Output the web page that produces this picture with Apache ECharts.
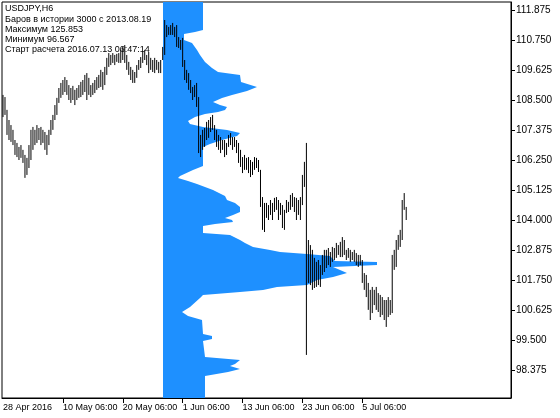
<!DOCTYPE html>
<html><head><meta charset="utf-8">
<script src="https://cdn.jsdelivr.net/npm/echarts@6/dist/echarts.min.js"></script>
<style>html,body{margin:0;padding:0;background:#fff}#c{width:560px;height:418px}</style>
</head><body><div id="c"></div>
<script>
// ---- data ----
const infoLines = ['USDJPY,H6','Баров в истории 3000 с 2013.08.19','Максимум 125.853','Минимум 96.567','Старт расчета 2016.07.13 06:47:14'];
const timeLabels = ['28 Apr 2016','10 May 06:00','20 May 06:00','1 Jun 06:00','13 Jun 06:00','23 Jun 06:00','5 Jul 06:00'];
const timeLabelIdx = [0,30,60,90,120,150,180];
const barSlots = 255;
const priceTicks = [98.375,99.5,100.625,101.75,102.875,104.0,105.125,106.25,107.375,108.5,109.625,110.75,111.875];
const priceMin = 97.325, priceMax = 112.175;
const highs = [108.69,108.61,108.13,107.75,107.56,107.38,107.00,106.89,106.74,106.81,106.63,106.44,106.33,106.81,107.38,107.49,107.38,107.56,107.45,107.49,
107.38,107.30,107.19,107.38,107.75,107.94,108.31,108.58,108.95,109.14,109.25,109.36,109.25,109.06,108.95,109.03,108.88,108.95,109.06,109.18,
109.25,109.44,109.51,109.33,109.06,109.14,109.25,109.36,109.44,109.63,109.55,109.74,110.08,110.26,110.19,110.26,110.19,110.23,110.26,110.38,
110.49,110.56,110.19,109.93,109.74,109.63,109.55,109.81,110.00,110.11,110.30,110.38,110.19,110.30,110.08,110.00,110.08,110.00,109.93,110.00,
110.49,111.50,111.31,111.24,111.31,111.39,111.24,111.31,110.86,110.75,110.83,110.00,109.63,109.51,109.25,108.99,109.06,109.14,108.61,107.19,
107.38,107.45,107.68,107.75,107.86,107.94,107.56,107.38,107.19,107.11,107.00,107.00,106.89,107.19,107.26,107.11,107.11,107.00,106.89,106.63,
106.36,106.44,106.33,106.36,106.25,106.18,106.36,106.33,106.25,105.88,104.86,104.64,104.64,104.56,104.75,104.64,104.83,104.86,104.75,104.64,
104.56,104.38,104.75,104.68,104.94,105.01,104.86,104.83,104.75,104.86,105.69,106.18,106.89,103.25,103.06,102.88,102.58,102.43,102.50,102.31,
102.69,102.88,102.88,102.95,102.80,102.99,102.95,103.14,103.06,103.18,103.36,103.25,102.88,102.95,102.88,102.80,102.88,102.76,102.69,102.69,
102.50,102.01,101.94,101.64,101.38,101.49,101.38,101.49,101.26,101.19,101.11,101.00,101.00,101.11,101.00,102.69,102.88,103.25,103.44,103.63,
104.75,105.01,104.49];
const lows = [107.86,107.94,107.19,107.00,106.93,106.81,106.44,106.36,106.25,106.33,106.14,105.58,105.69,105.95,106.25,106.63,106.81,106.89,107.00,106.81,
106.89,106.63,106.44,106.81,107.19,107.38,107.75,107.94,108.39,108.58,108.69,108.80,108.69,108.50,108.39,108.50,108.31,108.50,108.58,108.61,
108.69,108.80,108.50,108.69,108.61,108.69,108.76,108.88,108.95,108.99,108.88,109.06,109.44,109.74,109.81,109.89,109.81,109.93,109.89,109.89,
110.00,109.89,109.63,109.44,109.25,109.14,109.14,109.33,109.63,109.70,109.89,110.00,109.81,109.51,109.63,109.55,109.51,109.63,109.51,109.51,
110.00,110.19,110.86,110.94,110.94,110.94,110.86,110.49,110.45,110.38,109.74,109.25,109.14,108.88,108.76,108.50,108.61,108.24,106.51,106.36,
106.63,106.74,107.00,107.08,107.30,107.38,107.00,106.74,106.63,106.51,106.63,106.36,106.44,106.74,106.81,106.63,106.74,106.51,106.14,105.99,
105.76,105.88,105.88,105.76,105.61,105.69,105.88,105.95,105.80,104.49,103.63,103.55,104.08,104.00,104.19,104.00,104.30,104.38,104.00,104.19,
103.70,103.63,104.26,104.30,104.38,104.49,104.30,104.00,104.19,104.00,104.56,105.24,98.94,101.64,101.56,101.38,101.45,101.49,101.56,101.49,
101.94,102.05,102.20,102.31,102.24,102.43,102.50,102.58,102.69,102.61,102.61,102.69,102.50,102.58,102.43,102.50,102.43,102.31,102.24,102.31,
101.64,101.38,101.11,100.63,100.25,100.51,100.81,100.63,100.55,100.36,100.44,100.25,99.99,100.36,100.44,100.51,102.13,102.24,102.88,102.99,
103.25,104.38,104.00];
// volume profile outline (price level -> relative volume)
const profPrice = [112.175,111.125,111.05,110.975,110.75,110.64,110.375,110.19,109.925,109.70,109.55,109.44,109.175,108.99,108.84,108.69,108.575,108.425,108.31,108.24,
108.125,108.05,107.975,107.86,107.71,107.60,107.49,107.375,107.26,107.15,107.00,106.85,106.74,106.025,105.875,105.65,105.575,105.46,105.35,105.125,
104.90,104.75,104.64,104.49,104.30,104.19,104.075,104.00,103.925,103.85,103.775,103.51,103.44,103.25,103.14,102.99,102.875,102.80,102.725,102.65,
102.46,102.425,102.31,102.24,102.125,102.01,101.86,101.75,101.56,101.49,101.375,101.30,101.19,101.075,100.74,100.55,100.40,100.25,99.725,99.65,
99.54,99.46,98.86,98.75,98.60,98.525,98.41,98.30,98.15,97.325];
const profVol = [200,200,160,105,105,145,170,185,210,245,275,385,390,470,420,345,295,250,285,320,
310,275,210,160,125,135,200,320,385,370,295,235,200,200,150,85,75,125,170,250,
310,320,360,385,385,350,310,345,350,260,200,200,335,385,410,450,535,585,720,835,
860,1070,1070,850,885,920,850,770,720,570,500,385,200,185,135,95,125,195,200,245,
245,200,210,385,360,335,385,325,210,210];
const profVolMax = 1740;

// ---- chart ----
const chart = echarts.init(document.getElementById('c'), null, {renderer:'canvas', width:560, height:418});
const categories = Array.from({length: barSlots}, (_, i) => {
  const k = timeLabelIdx.indexOf(i); return k >= 0 ? timeLabels[k] : String(i);
});
const FONT = '"Liberation Sans", Arial, sans-serif';
const candleData = highs.map((h, i) => [i, h, lows[i]]);
const profData = profPrice.map((p, i) => [profVol[i], p]);

chart.setOption({
  animation: false,
  backgroundColor: '#fff',
  grid: [
    {left: 2, right: 49, top: 2, bottom: 20, show: true, borderColor: '#000', borderWidth: 1, backgroundColor: 'transparent'},
    {left: 163, right: 49, top: 2, bottom: 20, show: false}
  ],
  xAxis: [
    {type: 'category', gridIndex: 0, data: categories, boundaryGap: true,
     axisLine: {show: true, lineStyle: {color: '#000', width: 1}},
     axisTick: {show: true, alignWithLabel: true, length: 5, lineStyle: {color: '#000'},
                interval: (idx) => idx > 0 && timeLabelIdx.includes(idx)},
     axisLabel: {show: true, interval: (idx) => timeLabelIdx.includes(idx), align: 'left', margin: 5,
                 fontFamily: FONT, fontSize: 9, color: '#000'},
     splitLine: {show: false}},
    {type: 'value', gridIndex: 1, min: 0, max: profVolMax, show: false}
  ],
  yAxis: [
    {type: 'value', gridIndex: 0, position: 'right', min: priceMin, max: priceMax,
     axisLine: {show: true, lineStyle: {color: '#000', width: 1}},
     axisTick: {show: true, length: 4, lineStyle: {color: '#000'}, customValues: priceTicks},
     axisLabel: {show: true, margin: 5, fontFamily: FONT, fontSize: 10, color: '#000',
                 customValues: priceTicks, formatter: (v) => v.toFixed(3)},
     splitLine: {show: false}},
    {type: 'value', gridIndex: 1, min: priceMin, max: priceMax, show: false}
  ],
  graphic: infoLines.map((t, i) => ({
    type: 'text', left: 5, top: [4, 15, 25, 35, 45][i], z: 10, silent: true,
    style: {text: t, font: '9px ' + FONT, fill: '#000'}
  })),
  series: [
    {type: 'custom', name: 'profile', xAxisIndex: 1, yAxisIndex: 1, z: 1, silent: true,
     clip: true,
     data: [profData[0]],
     renderItem: (params, api) => {
       const pts = [];
       pts.push(api.coord([0, profPrice[0]]));
       for (let i = 0; i < profPrice.length; i++) pts.push(api.coord([profVol[i], profPrice[i]]));
       pts.push(api.coord([0, profPrice[profPrice.length - 1]]));
       return {type: 'polygon', shape: {points: pts}, style: {fill: '#1E90FF', stroke: null}};
     }},
    {type: 'custom', name: 'USDJPY', xAxisIndex: 0, yAxisIndex: 0, z: 3, silent: true,
     data: candleData,
     renderItem: (params, api) => {
       const a = api.coord([api.value(0), api.value(1)]);
       const b = api.coord([api.value(0), api.value(2)]);
       return {type: 'line', shape: {x1: a[0], y1: a[1], x2: b[0], y2: b[1]},
               style: {stroke: '#000', lineWidth: 1}};
     }}
  ]
});
</script></body></html>
